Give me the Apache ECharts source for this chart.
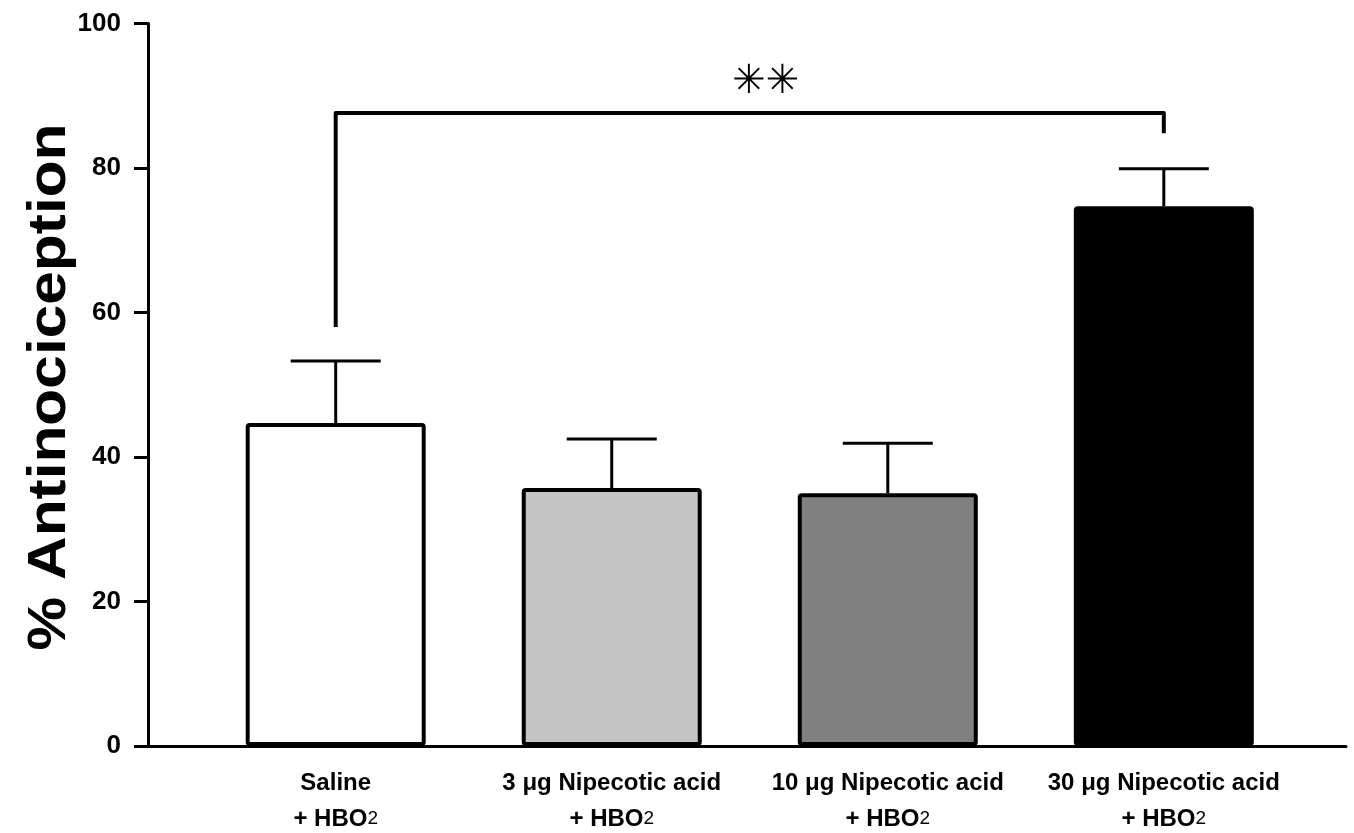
<!DOCTYPE html>
<html>
<head>
<meta charset="utf-8">
<title>% Antinociception</title>
<script src="https://cdn.jsdelivr.net/npm/echarts@6/dist/echarts.min.js"></script>
<style>
  html, body { margin: 0; padding: 0; background: #fff; }
  #chart { width: 1354px; height: 833px; }
</style>
</head>
<body>
<div id="chart"></div>
<script>
// Treatment groups (x axis), each given with HBO2
const categories = ['Saline', '3 μg Nipecotic acid', '10 μg Nipecotic acid', '30 μg Nipecotic acid'];
const vehicle = '+ HBO';
const vehicleSub = '2';

// Mean % antinociception and SEM per group
const means = [44.7, 35.7, 35.0, 74.7];
const sems = [8.6, 6.8, 6.9, 5.2];

// Y axis range / ticks
const yMin = 0;
const yMax = 100;
const yStep = 20;

// Significance bracket between Saline and 30 μg group
const sigFrom = 0;
const sigTo = 3;
const sigLevel = 87.6;
const sigFeet = [58.0, 84.8];
const sigMark = '✳✳';

// Styling
const barFills = ['#ffffff', '#c4c4c4', '#808080', '#000000'];
const font = '"Liberation Sans", Arial, Helvetica, sans-serif';

const chart = echarts.init(document.getElementById('chart'), null, { renderer: 'canvas' });

const barData = means.map((m, i) => ({
  value: [i, m],
  itemStyle: { color: barFills[i] }
}));
const errData = means.map((m, i) => [i, m, m + sems[i]]);

chart.setOption({
  animation: false,
  backgroundColor: '#fff',
  grid: { left: 148, right: 8, top: 23.5, bottom: 87, containLabel: false, outerBoundsMode: 'none' },
  xAxis: {
    type: 'value',
    min: -0.68,
    max: 3.66,
    splitLine: { show: false },
    axisLine: { show: true, onZero: false, lineStyle: { color: '#000', width: 3 } },
    axisTick: { show: false },
    axisLabel: {
      customValues: categories.map((_, i) => i),
      margin: 19,
      formatter: (v) => {
        const i = Math.round(v);
        return '{b|' + categories[i] + '}\n{b|' + vehicle + '}{s|' + vehicleSub + '}';
      },
      rich: {
        b: { fontFamily: font, fontWeight: 'bold', fontSize: 24, lineHeight: 36, color: '#000' },
        s: { fontFamily: font, fontWeight: 'normal', fontSize: 19, lineHeight: 36, verticalAlign: 'middle', color: '#000' }
      }
    }
  },
  yAxis: {
    type: 'value',
    min: yMin,
    max: yMax,
    interval: yStep,
    splitLine: { show: false },
    axisLine: { show: true, onZero: false, lineStyle: { color: '#000', width: 3 } },
    axisTick: { show: true, inside: false, length: 14, lineStyle: { color: '#000', width: 3 } },
    axisLabel: {
      margin: 27,
      fontFamily: font,
      fontWeight: 'bold',
      fontSize: 26,
      color: '#000'
    }
  },
  graphic: [{
    type: 'text',
    x: 50,
    y: 387,
    rotation: Math.PI / 2,
    scaleX: 1.14,
    style: {
      text: '% Antinociception',
      font: 'bold 53px ' + font,
      fill: '#000',
      textAlign: 'center',
      textVerticalAlign: 'middle'
    }
  }],
  series: [
    {
      type: 'bar',
      data: barData,
      barWidth: 180,
      itemStyle: { borderColor: '#000', borderWidth: 4, borderRadius: 2 },
      z: 2
    },
    {
      // SEM whiskers with caps
      type: 'custom',
      data: errData,
      z: 3,
      renderItem: (params, api) => {
        const base = api.coord([api.value(0), api.value(1)]);
        const top = api.coord([api.value(0), api.value(2)]);
        const capHalf = 45;
        return {
          type: 'group',
          children: [
            { type: 'line', shape: { x1: base[0], y1: base[1], x2: top[0], y2: top[1] },
              style: { stroke: '#000', lineWidth: 3 } },
            { type: 'line', shape: { x1: top[0] - capHalf, y1: top[1], x2: top[0] + capHalf, y2: top[1] },
              style: { stroke: '#000', lineWidth: 3 } }
          ]
        };
      }
    },
    {
      // Significance bracket and marker
      type: 'custom',
      data: [[sigFrom, sigTo, sigLevel, sigFeet[0], sigFeet[1]]],
      z: 4,
      renderItem: (params, api) => {
        const a = api.coord([api.value(0), api.value(3)]);
        const b = api.coord([api.value(0), api.value(2)]);
        const c = api.coord([api.value(1), api.value(2)]);
        const d = api.coord([api.value(1), api.value(4)]);
        const mid = (b[0] + c[0]) / 2;
        return {
          type: 'group',
          children: [
            { type: 'polyline', shape: { points: [a, b, c, d] },
              style: { stroke: '#000', lineWidth: 4, fill: null, lineJoin: 'round' } },
            { type: 'text', x: mid + 16, y: b[1] - 30,
              style: { text: sigMark, font: 'normal 40px "DejaVu Sans", sans-serif', fill: '#000',
                       textAlign: 'center', textVerticalAlign: 'middle' } }
          ]
        };
      }
    }
  ]
});
</script>
</body>
</html>
